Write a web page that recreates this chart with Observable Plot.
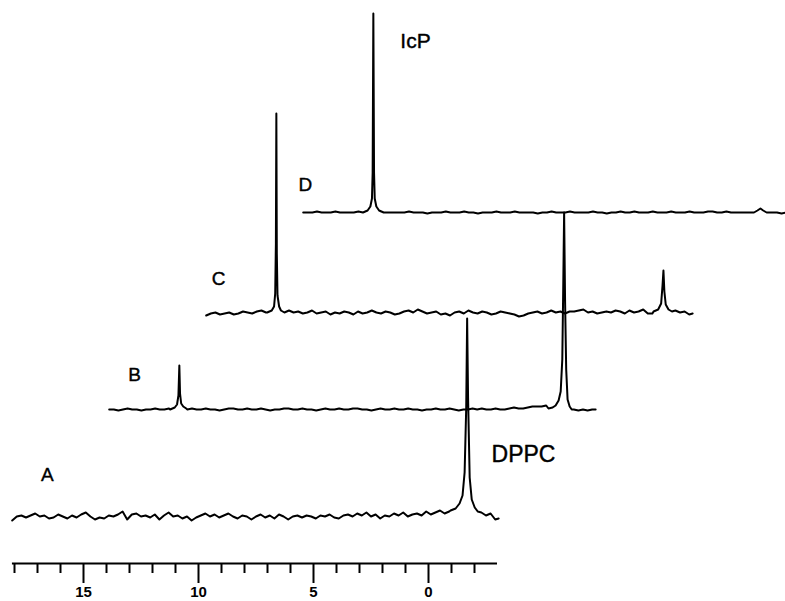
<!DOCTYPE html>
<html><head><meta charset="utf-8">
<script src="https://cdn.jsdelivr.net/npm/d3@7"></script>
<script src="https://cdn.jsdelivr.net/npm/@observablehq/plot@0.6"></script>
<style>html,body{margin:0;padding:0;background:#fff;overflow:hidden}</style>
</head><body><div id="chart"></div>
<script>
// chemical shift sampling grid (ppm) shared by the four spectra
const ppmGrid = [18.1,17.9,17.7,17.5,17.3,17.1,16.9,16.7,16.5,16.3,
16.1,15.9,15.7,15.5,15.3,15.1,14.9,14.7,14.5,14.3,
14.1,13.9,13.7,13.5,13.3,13.1,12.9,12.7,12.5,12.3,
12.1,11.9,11.7,11.5,11.3,11.1,10.9,10.7,10.5,10.3,
10.1,9.9,9.7,9.5,9.3,9.1,8.9,8.7,8.5,8.3,
8.1,7.9,7.7,7.5,7.3,7.1,6.9,6.7,6.5,6.3,
6.1,5.9,5.7,5.5,5.3,5.1,4.9,4.7,4.5,4.3,
4.1,3.9,3.7,3.5,3.3,3.1,2.9,2.7,2.5,2.3,
2.1,1.9,1.7,1.5,1.3,1.1,0.9,0.7,0.5,0.3,
0.1,-0.1,-0.3,-0.5,-0.7,-0.9,-1.1,-1.3,-1.5,-1.7,
-1.9,-2.1,-2.3,-2.5,-2.7,-2.9,-3.05];

// baseline intensities (arbitrary units)
const noiseA = [-3,1,2,0,2,4,1,2,-1,0, 3,1,-1,2,0,3,5,1,-2,0, -1,2,1,3,6,-2,3,4,1,2,
0,3,-2,2,5,1,2,-1,1,-3, 0,2,4,1,3,0,2,4,1,-1, 2,1,-2,1,3,0,2,-1,3,1,
-2,1,2,0,2,1,-1,2,1,3, 0,-1,2,3,1,4,2,5,1,3, -1,2,1,4,2,5,1,3,4,2,
6,3,5,7,4,6,8,0,0,0, 0,0,5,2,4,-2,-1];
const noiseB = [0,0,-1,0,1,0,0,-1,0,0, 1,0,0,1,0,0,0,0,1,0, 0,1,0,0,-1,0,1,1,0,0,
1,0,0,1,0,-1,0,0,1,1, 0,0,1,0,0,-1,0,1,0,0, 1,0,0,1,1,0,0,-1,0,1,
0,0,1,0,0,1,0,0,-1,0, 0,1,0,0,1,0,-1,0,0,1, 0,1,0,0,1,0,0,1,2,1,
1,2,3,3,3,4,0,0,0,0, 0,0,-1,0,-1,0,0];
const noiseC = [-2,0,1,-1,0,1,-1,0,2,1, 0,2,3,1,0,0,0,0,3,1, 2,0,1,3,0,1,2,-1,1,0,
2,1,-1,2,0,1,3,1,0,2, 1,-1,0,2,3,1,4,2,0,1, 2,-1,0,-2,1,2,0,3,1,0,
2,1,-1,0,2,1,0,-1,-3,-2, 0,1,2,0,1,3,1,2,0,2, 2,3,4,1,2,0,1,2,1,3,
2,0,3,1,2,4,0,0,0,0, 0,0,3,1,2,-1,0];
const noiseD = [0,0,0,1,0,0,0,1,0,0, 0,0,1,0,0,0,0,0,0,0, 0,0,0,1,0,0,0,-1,0,0,
0,1,0,0,0,1,0,0,-1,0, 0,0,1,0,0,0,1,0,0,0, 0,-1,0,0,1,0,0,0,1,0,
0,0,0,1,0,0,-1,0,0,1, 0,0,1,0,0,0,1,0,0,0, 1,0,0,0,1,0,0,0,1,1,
0,0,1,0,0,0,0,0,0,0, 0,0,0,0,-1,0,0];

// resonances: [ppm, intensity] pairs (IcP near 15 ppm, DPPC near -1.7 ppm)
const peaksA = [
  [[-0.96,7],[-1.18,9],[-1.35,14],[-1.48,22],[-1.57,45],[-1.64,110],[-1.68,199],[-1.72,120],[-1.79,40],[-1.88,18],[-2.01,10],[-2.14,6]]
];
const peaksB = [
  [[15.45,0],[15.25,2],[15.15,5],[15.09,14],[15.05,44],[15.02,16],[14.97,6],[14.88,3],[14.75,1]],
  [[-1.0,1],[-1.18,2],[-1.31,4],[-1.44,9],[-1.53,18],[-1.6,50],[-1.64,120],[-1.68,197],[-1.72,110],[-1.77,40],[-1.83,10],[-1.92,3],[-2.01,0]]
];
const peaksC = [
  [[15.45,1],[15.25,3],[15.15,7],[15.1,20],[15.07,70],[15.05,200],[15.03,60],[15.0,18],[14.93,7],[14.85,3],[14.7,1]],
  [[-1.35,2],[-1.55,4],[-1.68,10],[-1.74,28],[-1.78,43],[-1.82,22],[-1.88,9],[-2.0,4],[-2.15,2]]
];
const peaksD = [
  [[15.5,0],[15.3,2],[15.18,6],[15.11,14],[15.08,40],[15.05,199],[15.02,40],[14.99,14],[14.92,6],[14.8,2],[14.6,0]],
  [[-1.5,0],[-1.65,2],[-1.78,4],[-1.9,2],[-2.05,0]]
];

const spectrumNames = ["A","B","C","D"];
// stacked-plot offsets (horizontal in ppm, vertical in intensity units)
const stackShift = [0, 4.217, 8.435, 12.652];
const stackBase = [-2, 106, 202, 303];

const axisTicks = [18,17,16,15,14,13,12,11,10,9,8,7,6,5,4,3,2,1,0,-1,-2];
const axisLabels = [15,10,5,0];

const annotations = [
  {text:"A", x:16.57, y:41, size:19, weight:"bold"},
  {text:"B", x:12.78, y:141, size:19, weight:"bold"},
  {text:"C", x:9.13, y:237, size:19, weight:"bold"},
  {text:"D", x:5.35, y:331, size:19, weight:"bold"},
  {text:"IcP", x:0.565, y:474, size:21, weight:"normal"},
  {text:"DPPC", x:-4.13, y:61, size:23, weight:"normal"}
];

function build(name, noise, peaks, base, shift) {
  const pts = [];
  ppmGrid.forEach((p, i) => {
    const inPeak = peaks.some(g => p <= d3.max(g, d => d[0]) && p >= d3.min(g, d => d[0]));
    if (!inPeak) pts.push({ppm: p, h: noise[i]});
  });
  peaks.forEach(g => g.forEach(([p, h]) => pts.push({ppm: p, h})));
  pts.sort((a, b) => b.ppm - a.ppm);
  return pts.map(d => ({name, x: d.ppm - shift, y: base + d.h}));
}

const noises = [noiseA, noiseB, noiseC, noiseD];
const peaks = [peaksA, peaksB, peaksC, peaksD];
const lines = spectrumNames.flatMap((n, i) => build(n, noises[i], peaks[i], stackBase[i], stackShift[i]));

const axisY = -48;
const chart = Plot.plot({
  width: 785, height: 601, margin: 0,
  style: {fontFamily: "'Liberation Sans', Arial, sans-serif", background: "#fff"},
  x: {domain: [428/23, (428-785)/23], range: [0, 785], axis: null},
  y: {domain: [-86, 515], range: [601, 0], axis: null},
  marks: [
    Plot.line(lines, {x: "x", y: "y", z: "name", stroke: "#000", strokeWidth: 2, strokeLinejoin: "round"}),
    Plot.ruleY([axisY], {x1: 18.09, x2: -3.0, stroke: "#000", strokeWidth: 2}),
    Plot.ruleX(axisTicks, {x: d => d, y1: axisY, y2: d => d % 5 === 0 ? axisY - 20 : axisY - 10, stroke: "#000", strokeWidth: 2}),
    Plot.text(axisLabels, {x: d => d, y: axisY - 23, text: d => String(d), lineAnchor: "top", fontSize: 15, fontWeight: "bold", fill: "#000", style: "letter-spacing:2px"}),
    Plot.text(annotations, {x: "x", y: "y", text: "text", fontSize: d => d.size, fontWeight: d => d.weight, fill: "#000", stroke: "#000", strokeWidth: 0.4, textAnchor: "middle", lineAnchor: "middle"})
  ]
});
document.getElementById("chart").appendChild(chart);
</script>
</body></html>
